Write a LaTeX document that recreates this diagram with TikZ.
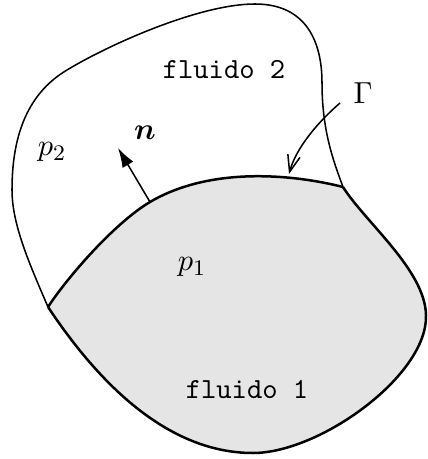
\documentclass[tikz,border=0pt]{standalone}
\usepackage{amsmath}
\usepackage{bm}
\usetikzlibrary{arrows.meta}
\definecolor{fluidgray}{HTML}{E5E5E5}
\begin{document}
\begin{tikzpicture}[x=0.36pt,y=-0.36pt,
  thinline/.style={line width=0.55pt, line join=round},
  thickline/.style={line width=0.9pt, line join=round},
  lbl/.style={inner sep=0pt, font=\fontsize{11}{13}\selectfont},
  ttlbl/.style={inner sep=0pt, font=\fontsize{10.5}{12}\selectfont\ttfamily}]
\useasboundingbox (0,0) rectangle (427,459);
\coordinate (A) at (48,307);
\coordinate (M) at (150,202);
\coordinate (B) at (343,187);
\coordinate (R) at (426,315);
\coordinate (Bot) at (253,453);
\coordinate (L) at (12,190);
\coordinate (C1) at (67,70);
\coordinate (T) at (255,4);
\coordinate (RT) at (322,83);
% fluid 1 region
\fill[fluidgray] (A) .. controls (69,275) and (116,222) .. (M)
  .. controls (211,166) and (294,174.5) .. (B)
  .. controls (365,222) and (425,270) .. (R)
  .. controls (428,375) and (320,453) .. (Bot)
  .. controls (160,453) and (90,370) .. (A) -- cycle;
% interface
\draw[thickline] (A) .. controls (69,275) and (116,222) .. (M)
  .. controls (211,166) and (294,174.5) .. (B);
% lower boundary of fluid 1
\draw[thickline] (B) .. controls (365,222) and (425,270) .. (R)
  .. controls (428,375) and (320,453) .. (Bot)
  .. controls (160,453) and (90,370) .. (A);
% outer boundary of fluid 2
\draw[thinline] (A) .. controls (30,265) and (12,225) .. (L)
  .. controls (12,140) and (25,95) .. (C1)
  .. controls (110,44) and (200,4) .. (T)
  .. controls (305,4) and (322,40) .. (RT)
  .. controls (322,130) and (333,160) .. (B);
% labels
\node[ttlbl] (f2) at (224,70) {fluido 2};
\node[ttlbl] (f1) at (247,390) {fluido 1};
\node[lbl] (p2) at (52,152) {$p_2$};
\node[lbl] (p1) at (192,267) {$p_1$};
\node[lbl] (nl) at (145,133) {$\bm{n}$};
\node[lbl] (gl) at (363,93) {$\Gamma$};
% normal arrow
\coordinate (ntip) at (118,148);
\draw[line width=0.55pt, -{Latex[length=7pt,width=4.5pt]}] (M) -- (ntip);
% Gamma arrow
\coordinate (gstart) at (340,103);
\coordinate (gend) at (289,174);
\draw[line width=0.55pt, -{Straight Barb[length=6pt,width=4.5pt]}] (gstart) .. controls (318,122) and (296,148) .. (gend);
\end{tikzpicture}
\end{document}
